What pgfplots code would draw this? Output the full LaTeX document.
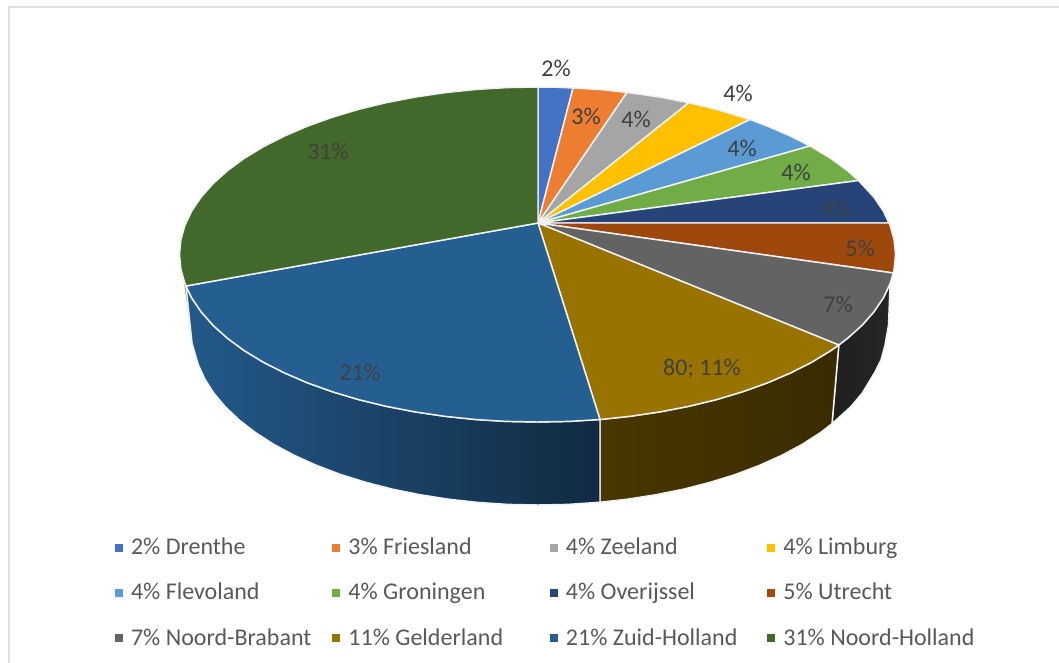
\documentclass[border=0pt]{standalone}
\usepackage{fontspec}
\setmainfont{Carlito}
\usepackage{pgfplots}
\pgfplotsset{compat=1.18}
\definecolor{cDrenthe}{HTML}{4472C4}
\definecolor{cFriesland}{HTML}{ED7D31}
\definecolor{cZeeland}{HTML}{A5A5A5}
\definecolor{cLimburg}{HTML}{FFC000}
\definecolor{cFlevoland}{HTML}{5B9BD5}
\definecolor{cGroningen}{HTML}{70AD47}
\definecolor{cOverijssel}{HTML}{264478}
\definecolor{cUtrecht}{HTML}{9E480E}
\definecolor{cBrabant}{HTML}{636363}
\definecolor{cGelderland}{HTML}{997300}
\definecolor{cZuid}{HTML}{255E91}
\definecolor{cNoord}{HTML}{43682B}
\definecolor{lbl}{HTML}{404040}
\definecolor{lgd}{HTML}{595959}
\definecolor{edge}{HTML}{F2F2F2}
\newcommand{\lgent}[1]{\makebox[151.1pt][l]{\rule{0pt}{12pt}#1}}
\begin{document}
\begin{tikzpicture}
\begin{axis}[
  scale only axis, width=794.25pt, height=497.25pt,
  xmin=0, xmax=1059, ymin=0, ymax=663, y dir=reverse,
  axis lines=none, ticks=none, clip=true,
  axis background/.style={fill=white},
  legend columns=4,
  legend image code/.code={\path[#1,draw=none] (0pt,-2pt) rectangle (6pt,4pt);},
  legend style={draw=none, fill=none, at={(axis cs:115,538)}, anchor=north west,
    inner sep=0pt, outer sep=0pt, row sep=17.4pt,
    nodes={inner sep=0pt, outer sep=0pt, text depth=4pt, text=lgd, font=\fontsize{18pt}{20pt}\selectfont},
    /tikz/every odd column/.append style={column sep=6pt}},
  every axis plot/.append style={line width=1.1pt, line join=round},
]
% chart frame (open at right and bottom)
\addplot[forget plot, draw=black!12, line width=1.5pt] coordinates {(9,663) (9,7.5) (1059,7.5)};
% side walls
\addplot[forget plot, fill=cNoord!85!white, draw=none] coordinates {(183,275) (186,286) (192,343) (188,310)} --cycle;
\addplot[forget plot, draw=edge, left color=black!88, right color=black!85] coordinates {
 (890.1,283.6) (883.3,297.9) (873.9,311.8) (862,325.3) (847.5,338.3) (838.8,345) (832,423.7)
 (850.7,406.8) (862.2,393.1) (875,372) (881,360) (885,345) (888.5,325)} --cycle;
\addplot[forget plot, draw=edge, left color=cGelderland!48!black, middle color=cGelderland!38!black, right color=cGelderland!38!black] coordinates {
 (838.8,345) (830.8,350.6) (811.7,362.2) (790.6,372.9) (767.6,382.8) (742.8,391.7) (716.5,399.6) (688.8,406.3) (659.9,411.9) (630.2,416.3) (600,419.5)
 (600,502.2) (627.3,499.2) (656,494.7) (683.8,489.1) (710.5,482.2) (735.9,474.3) (759.8,465.2) (782,455.2) (802.3,444.3) (820.6,432.5) (832,423.7)} --cycle;
\addplot[forget plot, draw=edge, left color=cZuid!95!black, middle color=cZuid!72!black, right color=cZuid!45!black] coordinates {
 (600,419.5) (568.7,421.4) (537.5,422) (506.3,421.4) (475.3,419.5) (444.8,416.3) (415.1,411.9) (386.2,406.3) (358.5,399.6) (332.2,391.7) (307.4,382.8) (284.4,372.9) (263.3,362.2) (244.2,350.6) (227.5,338.3) (213,325.3) (201.1,311.8) (191.7,297.9) (186,286)
 (192,343) (198.2,364.5) (204.8,379) (213.8,393.1) (225.3,406.8) (239.2,420) (255.4,432.5) (273.7,444.3) (294,455.2) (316.2,465.2) (340.1,474.3) (365.5,482.2) (392.2,489.1) (420,494.7) (448.7,499.2) (478.1,502.4) (507.9,504.4) (538,505) (568.1,504.4) (600,502.2)} --cycle;
% top faces, one series per province
\addplot[fill=cDrenthe, draw=edge] coordinates {(538,223) (538,87) (555,87.2) (573,88)} --cycle;
\addlegendentry{\lgent{2\% Drenthe}}
\addplot[fill=cFriesland, draw=edge] coordinates {(538,223) (573,88) (599.7,89.5) (627,92.4)} --cycle;
\addlegendentry{\lgent{3\% Friesland}}
\addplot[fill=cZeeland, draw=edge] coordinates {(538,223) (627,92.4) (659.9,97.1) (688.8,102.7)} --cycle;
\addlegendentry{\lgent{4\% Zeeland}}
\addplot[fill=cLimburg, draw=edge] coordinates {(538,223) (688.8,102.7) (716.5,109.4) (750,119.5)} --cycle;
\addlegendentry{\lgent{4\% Limburg}}
\addplot[fill=cFlevoland, draw=edge] coordinates {(538,223) (750,119.5) (767.6,126.2) (790.6,136.1) (810,146)} --cycle;
\addlegendentry{\lgent{4\% Flevoland}}
\addplot[fill=cGroningen, draw=edge] coordinates {(538,223) (810,146) (830.8,158.4) (847.5,170.7) (858.5,180.5)} --cycle;
\addlegendentry{\lgent{4\% Groningen}}
\addplot[fill=cOverijssel, draw=edge] coordinates {(538,223) (858.5,180.5) (873.9,197.2) (883.3,211.1) (889,223)} --cycle;
\addlegendentry{\lgent{4\% Overijssel}}
\addplot[fill=cUtrecht, draw=edge] coordinates {(538,223) (889,223) (890.1,225.4) (894.1,239.9) (895.5,254.5) (894.1,269.1) (893.3,273)} --cycle;
\addlegendentry{\lgent{5\% Utrecht}}
\addplot[fill=cBrabant, draw=edge] coordinates {(538,223) (893.3,273) (890.1,283.6) (883.3,297.9) (873.9,311.8) (862,325.3) (847.5,338.3) (838.8,345)} --cycle;
\addlegendentry{\lgent{7\% Noord-Brabant}}
\addplot[fill=cGelderland, draw=edge] coordinates {(538,223) (838.8,345) (830.8,350.6) (811.7,362.2) (790.6,372.9) (767.6,382.8) (742.8,391.7) (716.5,399.6) (688.8,406.3) (659.9,411.9) (630.2,416.3) (600,419.5)} --cycle;
\addlegendentry{\lgent{11\% Gelderland}}
\addplot[fill=cZuid, draw=edge] coordinates {(538,223) (600,419.5) (568.7,421.4) (537.5,422) (506.3,421.4) (475.3,419.5) (444.8,416.3) (415.1,411.9) (386.2,406.3) (358.5,399.6) (332.2,391.7) (307.4,382.8) (284.4,372.9) (263.3,362.2) (244.2,350.6) (227.5,338.3) (213,325.3) (201.1,311.8) (191.7,297.9) (186,286)} --cycle;
\addlegendentry{\lgent{21\% Zuid-Holland}}
\addplot[fill=cNoord, draw=edge] coordinates {(538,223) (186,286) (184.9,283.6) (180.9,269.1) (179.5,254.5) (180.9,239.9) (184.9,225.4) (191.7,211.1) (201.1,197.2) (213,183.7) (227.5,170.7) (244.2,158.4) (263.3,146.8) (284.4,136.1) (307.4,126.2) (332.2,117.3) (358.5,109.4) (386.2,102.7) (415.1,97.1) (444.8,92.7) (475.3,89.5) (506.3,87.6) (538,87)} --cycle;
\addlegendentry{\lgent{31\% Noord-Holland}}
% data labels
\begin{scope}[every node/.style={text=lbl, inner sep=0pt, font=\fontsize{18pt}{20pt}\selectfont}]
\node at (axis cs:556,68) {2\%};
\node at (axis cs:586,116) {3\%};
\node at (axis cs:636,119) {4\%};
\node at (axis cs:738,93) {4\%};
\node at (axis cs:742,148) {4\%};
\node at (axis cs:796,172) {4\%};
\node at (axis cs:836,208) {4\%};
\node at (axis cs:860,248) {5\%};
\node at (axis cs:838,304) {7\%};
\node at (axis cs:702,369) {80; 11\%};
\node at (axis cs:360,372) {21\%};
\node at (axis cs:328,151) {31\%};
\end{scope}
\end{axis}
\end{tikzpicture}
\end{document}
